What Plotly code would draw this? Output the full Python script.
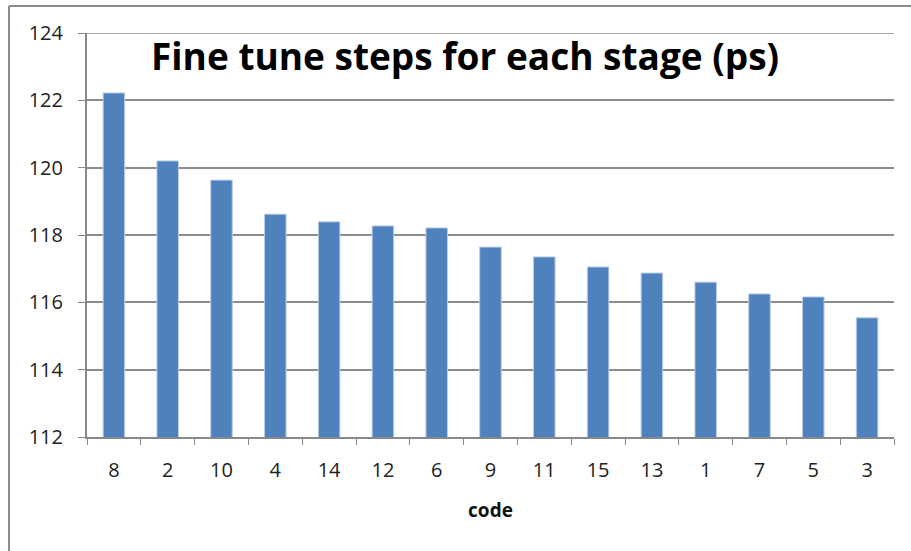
import plotly.graph_objects as go

# Codes ordered by fine-tune step size
codes = ["8", "2", "10", "4", "14", "12", "6", "9", "11", "15", "13", "1", "7", "5", "3"]
step_ps = [122.22, 120.20, 119.63, 118.62, 118.39, 118.27, 118.21, 117.64,
           117.35, 117.05, 116.87, 116.60, 116.25, 116.16, 115.54]
y_ticks = [112, 114, 116, 118, 120, 122, 124]

W, H = 911, 551
L, R, T, B = 87, 17, 33, 114
pw, ph = W - L - R, H - T - B

fig = go.Figure(go.Bar(
    x=codes, y=step_ps,
    marker=dict(color="#4F81BD", line=dict(color="#B9CDE5", width=1)),
))

font_family = "Open Sans, Liberation Sans, sans-serif"

fig.update_layout(
    width=W, height=H,
    margin=dict(l=L, r=R, t=T, b=B),
    paper_bgcolor="white", plot_bgcolor="white",
    bargap=0.6,
    showlegend=False,
    font=dict(family=font_family, color="#222222", size=20),
    xaxis=dict(
        type="category",
        tickson="boundaries",
        ticks="outside", ticklen=6, tickcolor="#888888",
        showline=True, linecolor="#888888", linewidth=2,
        showgrid=False,
        tickfont=dict(size=20, color="#222222"),
        ticklabelstandoff=14,
        title=dict(text="<b>code</b>", font=dict(size=19, color="#111111"), standoff=22),
    ),
    yaxis=dict(
        range=[112, 124],
        tickvals=y_ticks,
        ticks="outside", ticklen=7, tickcolor="#888888",
        showline=True, linecolor="#888888", linewidth=2,
        showgrid=True, gridcolor="#8c8c8c", gridwidth=1.5,
        zeroline=False,
        tickfont=dict(size=20, color="#222222"),
        ticklabelstandoff=11,
    ),
    annotations=[dict(
        text="<b>Fine tune steps for each stage (ps)</b>",
        xref="paper", yref="paper",
        x=(465 - L) / pw, y=(H - B - 55) / ph,
        xanchor="center", yanchor="middle",
        showarrow=False,
        font=dict(size=37, color="#000000", family=font_family),
    )],
    shapes=[
        # top gridline at the upper end of the range
        dict(type="line", xref="paper", yref="y",
             x0=0, x1=1, y0=y_ticks[-1], y1=y_ticks[-1],
             line=dict(color="#8c8c8c", width=1.5), layer="below"),
        # outer chart frame (left and top edges visible)
        dict(type="line", xref="paper", yref="paper",
             x0=(9 - L) / pw, x1=(W + 5 - L) / pw,
             y0=(H - B - 6) / ph, y1=(H - B - 6) / ph,
             line=dict(color="#8c8c8c", width=2)),
        dict(type="line", xref="paper", yref="paper",
             x0=(9 - L) / pw, x1=(9 - L) / pw,
             y0=(H - B - 6) / ph, y1=(H - B - H - 5) / ph,
             line=dict(color="#8c8c8c", width=2)),
    ],
)

fig.write_html("out.html")
